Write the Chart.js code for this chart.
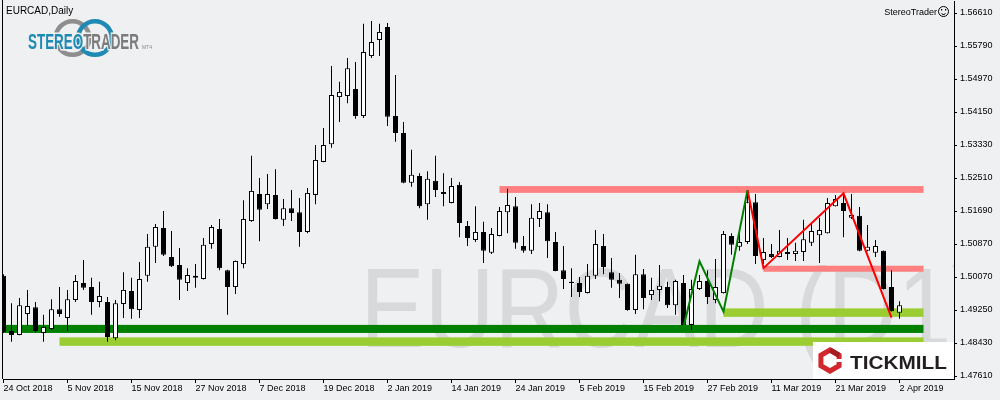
<!DOCTYPE html>
<html>
<head>
<meta charset="utf-8">
<script src="https://cdn.jsdelivr.net/npm/chart.js@4.4.1/dist/chart.umd.min.js"></script>
<style>
html, body { margin: 0; padding: 0; background: #eff0f2; }
canvas { display: block; }
</style>
</head>
<body>
<canvas id="chart" width="1000" height="400"></canvas>
<script>
// EURCAD daily candles, 24 Oct 2018 .. 2 Apr 2019 (index = trading day)
const opens = [1.5010,1.4873,1.4863,1.4915,1.4932,1.4868,1.4878,1.4927,1.4905,1.4950,
  1.4992,1.4982,1.4945,1.4945,1.4855,1.4940,1.4972,1.4925,1.5010,1.5082,
  1.5129,1.5057,1.5037,1.4992,1.5010,1.5002,1.5089,1.5126,1.5024,1.4982,
  1.5039,1.5146,1.5213,1.5188,1.5211,1.5149,1.5178,1.5168,1.5119,1.5211,
  1.5293,1.5337,1.5454,1.5457,1.5474,1.5407,1.5556,1.5596,1.5628,1.5407,
  1.5365,1.5241,1.5258,1.5188,1.5246,1.5218,1.5191,1.5236,1.5134,1.5099,
  1.5119,1.5067,1.5109,1.5168,1.5183,1.5084,1.5072,1.5151,1.5168,1.5094,
  1.5024,1.4995,1.4992,1.4967,1.5010,1.5084,1.5019,1.5000,1.4990,1.4925,
  1.5014,1.4962,1.4975,1.4982,1.4937,1.4992,1.4888,1.4977,1.4997,1.4950,
  1.4967,1.5109,1.5082,1.5094,1.5193,1.5049,1.5064,1.5057,1.5069,1.5064,
  1.5069,1.5092,1.5111,1.5116,1.5183,1.5191,1.5154,1.5159,1.5072,1.5067,
  1.5072,1.4982,1.4918];
const highs = [1.5014,1.4942,1.4955,1.4975,1.4945,1.4913,1.4952,1.4982,1.4975,1.5012,
  1.5049,1.5005,1.4995,1.4957,1.4950,1.5019,1.5005,1.5044,1.5114,1.5139,
  1.5171,1.5121,1.5079,1.5029,1.5039,1.5104,1.5136,1.5151,1.5025,1.5048,
  1.5198,1.5308,1.5253,1.5263,1.5275,1.5201,1.5223,1.5203,1.5228,1.5335,
  1.5377,1.5531,1.5492,1.5551,1.5541,1.5636,1.5643,1.5636,1.5638,1.5509,
  1.5392,1.5323,1.5265,1.5270,1.5308,1.5265,1.5253,1.5243,1.5146,1.5183,
  1.5144,1.5129,1.5181,1.5226,1.5206,1.5109,1.5188,1.5191,1.5188,1.5119,
  1.5084,1.5029,1.5007,1.5039,1.5124,1.5114,1.5054,1.5017,1.4991,1.5062,
  1.5027,1.5005,1.5037,1.4995,1.5000,1.5012,1.5000,1.5012,1.5024,1.5052,
  1.5121,1.5116,1.5119,1.5223,1.5213,1.5104,1.5089,1.5124,1.5104,1.5092,
  1.5149,1.5141,1.5154,1.5203,1.5211,1.5216,1.5213,1.5181,1.5136,1.5099,
  1.5073,1.5024,1.4947];
const lows = [1.4868,1.4846,1.4862,1.4885,1.4870,1.4846,1.4875,1.4908,1.4873,1.4945,
  1.4975,1.4913,1.4932,1.4846,1.4850,1.4905,1.4903,1.4905,1.4995,1.5042,
  1.5059,1.5032,1.4950,1.4972,1.4980,1.5001,1.5077,1.5024,1.4913,1.4965,
  1.5029,1.5144,1.5096,1.5176,1.5150,1.5134,1.5146,1.5082,1.5116,1.5188,
  1.5292,1.5328,1.5392,1.5439,1.5400,1.5402,1.5551,1.5556,1.5382,1.5343,
  1.5240,1.5231,1.5178,1.5149,1.5206,1.5183,1.5190,1.5106,1.5084,1.5094,
  1.5042,1.5064,1.5108,1.5116,1.5077,1.5067,1.5064,1.5131,1.5054,1.5021,
  1.4977,1.4957,1.4957,1.4966,1.5002,1.5014,1.4980,1.4955,1.4923,1.4915,
  1.4927,1.4950,1.4947,1.4930,1.4913,1.4885,1.4875,1.4975,1.4940,1.4942,
  1.4966,1.5062,1.5072,1.5089,1.5039,1.5039,1.5054,1.5056,1.5049,1.5047,
  1.5047,1.5084,1.5042,1.5115,1.5182,1.5106,1.5151,1.5071,1.5071,1.5057,
  1.4976,1.4921,1.4903];
const closes = [1.4870,1.4863,1.4937,1.4935,1.4873,1.4883,1.4927,1.4915,1.4952,1.4997,
  1.4980,1.4945,1.4960,1.4858,1.4942,1.4975,1.4927,1.5002,1.5082,1.5131,
  1.5062,1.5034,1.5000,1.5012,1.5005,1.5087,1.5131,1.5029,1.4982,1.5047,
  1.5151,1.5221,1.5174,1.5213,1.5151,1.5178,1.5166,1.5119,1.5216,1.5298,
  1.5335,1.5459,1.5467,1.5526,1.5407,1.5566,1.5591,1.5616,1.5405,1.5365,
  1.5241,1.5261,1.5183,1.5251,1.5223,1.5213,1.5233,1.5141,1.5104,1.5119,
  1.5072,1.5114,1.5171,1.5186,1.5092,1.5072,1.5154,1.5171,1.5096,1.5022,
  1.5002,1.4992,1.4970,1.5010,1.5089,1.5032,1.5000,1.4990,1.4925,1.5014,
  1.4955,1.4975,1.4985,1.4937,1.4997,1.4888,1.4977,1.4997,1.4957,1.4982,
  1.5114,1.5087,1.5094,1.5193,1.5059,1.5069,1.5057,1.5072,1.5064,1.5072,
  1.5101,1.5121,1.5124,1.5191,1.5201,1.5171,1.5161,1.5072,1.5082,1.5084,
  1.4977,1.4922,1.4937];

// axis ticks
const xTickIdx = [0, 8, 16, 24, 32, 40, 48, 56, 64, 72, 80, 88, 96, 104, 112];
const xTickLabels = ['24 Oct 2018', '5 Nov 2018', '15 Nov 2018', '27 Nov 2018', '7 Dec 2018',
  '19 Dec 2018', '2 Jan 2019', '14 Jan 2019', '24 Jan 2019', '5 Feb 2019', '15 Feb 2019',
  '27 Feb 2019', '11 Mar 2019', '21 Mar 2019', '2 Apr 2019'];
const yTickVals = [1.4761, 1.4843, 1.4925, 1.5007, 1.5089, 1.5171, 1.5253, 1.5335, 1.5417, 1.5499, 1.5581, 1.5663];
const yTickLabels = ['1.47610', '1.48430', '1.49250', '1.50070', '1.50870', '1.51690',
  '1.52510', '1.53330', '1.54150', '1.54970', '1.55790', '1.56610'];

// support / resistance zones (from index, to index, upper price, lower price)
const zoneStart = [-2, 7, 90, 62, 95];
const zoneEnd = [115, 115, 115, 115, 115];
const zoneTop = [1.4888, 1.4857, 1.4929, 1.5233, 1.5035];
const zoneBottom = [1.4868, 1.4836, 1.4908, 1.5216, 1.5020];
const zoneColors = ['#008000', '#9acd32', '#9acd32', '#ff8080', '#ff8080'];

// zigzag swings
const greenIdx = [85, 87, 90, 93];
const greenPrice = [1.4883, 1.5046, 1.4921, 1.5223];
const redIdx = [93, 95, 105, 111];
const redPrice = [1.5223, 1.5029, 1.5215, 1.4906];

const BG = '#eff0f2';

const bodies = opens.map((o, i) => ({ x: i, y: [o, closes[i]] }));
const wicks = highs.map((h, i) => ({ x: i, y: [lows[i], h] }));
const greenLine = greenIdx.map((x, i) => ({ x: x, y: greenPrice[i] }));
const redLine = redIdx.map((x, i) => ({ x: x, y: redPrice[i] }));

const decor = {
  id: 'decor',
  beforeDraw(chart) {
    const ctx = chart.ctx;
    ctx.save();
    ctx.fillStyle = BG;
    ctx.fillRect(0, 0, chart.width, chart.height);
    ctx.restore();
  },
  beforeDatasetsDraw(chart) {
    const ctx = chart.ctx;
    const a = chart.chartArea;
    const xs = chart.scales.x, ys = chart.scales.y;
    ctx.save();
    ctx.beginPath();
    ctx.rect(a.left, a.top, a.right - a.left, a.bottom - a.top);
    ctx.clip();

    // watermark
    ctx.save();
    ctx.font = '113px "Liberation Sans", Arial, sans-serif';
    ctx.textBaseline = 'alphabetic';
    const m = ctx.measureText('EURCAD (D1');
    const visW = m.actualBoundingBoxRight + m.actualBoundingBoxLeft;
    const s = 579 / visW;
    ctx.translate(368 + m.actualBoundingBoxLeft * s, 347);
    ctx.scale(s, 1);
    ctx.fillStyle = '#d8d9db';
    ctx.fillText('EURCAD (D1)', 0, 0);
    ctx.restore();

    // zones
    zoneStart.forEach((st, i) => {
      const x1 = xs.getPixelForValue(st);
      const x2 = xs.getPixelForValue(zoneEnd[i]);
      const y1 = ys.getPixelForValue(zoneTop[i]);
      const y2 = ys.getPixelForValue(zoneBottom[i]);
      ctx.fillStyle = zoneColors[i];
      ctx.fillRect(x1, y1, x2 - x1, y2 - y1);
    });
    ctx.restore();
  },
  afterDraw(chart) {
    const ctx = chart.ctx;
    const a = chart.chartArea;
    ctx.save();

    // left frame line
    ctx.strokeStyle = '#000';
    ctx.lineWidth = 1;
    ctx.beginPath();
    ctx.moveTo(a.left - 0.5, 0);
    ctx.lineTo(a.left - 0.5, a.bottom);
    ctx.stroke();

    // title
    ctx.fillStyle = '#000';
    ctx.font = '10px "Liberation Sans", Arial, sans-serif';
    ctx.textBaseline = 'alphabetic';
    ctx.textAlign = 'left';
    ctx.fillText('EURCAD,Daily', 6, 14);

    // StereoTrader label + smiley, top right
    ctx.font = '9px "Liberation Sans", Arial, sans-serif';
    ctx.textAlign = 'right';
    ctx.fillText('StereoTrader', a.right - 17, 15);
    ctx.beginPath();
    ctx.arc(a.right - 10.5, 11.5, 5, 0, Math.PI * 2);
    ctx.stroke();
    ctx.fillRect(a.right - 13, 9, 1.2, 1.5);
    ctx.fillRect(a.right - 9, 9, 1.2, 1.5);
    ctx.beginPath();
    ctx.arc(a.right - 10.5, 12, 2.5, 0.2 * Math.PI, 0.8 * Math.PI);
    ctx.stroke();

    // StereoTrader logo
    ctx.lineWidth = 4.5;
    ctx.strokeStyle = '#8e8e8e';
    ctx.beginPath();
    ctx.arc(72.5, 38, 16.8, 0, Math.PI * 2);
    ctx.stroke();
    ctx.strokeStyle = '#1f8ab3';
    ctx.beginPath();
    ctx.arc(95, 38, 16.8, 0, Math.PI * 2);
    ctx.stroke();
    ctx.font = 'bold 22px "Liberation Sans Narrow", "Liberation Sans", Arial, sans-serif';
    ctx.textAlign = 'left';
    const full = ctx.measureText('STEREOTRADER').width;
    const sx = 111 / full;
    const wStereo = ctx.measureText('STEREO').width * sx;
    ctx.save();
    ctx.translate(28, 49);
    ctx.scale(sx, 1);
    ctx.lineWidth = 3;
    ctx.strokeStyle = BG;
    ctx.strokeText('STEREOTRADER', 0, 0);
    ctx.fillStyle = '#1f8ab3';
    ctx.fillText('STEREO', 0, 0);
    ctx.fillStyle = '#7b7b7b';
    ctx.fillText('TRADER', wStereo / sx, 0);
    ctx.restore();
    ctx.font = '5px "Liberation Sans", Arial, sans-serif';
    ctx.fillStyle = '#8c8c8c';
    ctx.fillText('MT4', 142, 48.5);

    // Tickmill badge
    ctx.fillStyle = '#ffffff';
    ctx.fillRect(813, 342, a.right - 813, a.bottom - 342);
    const cx = 830, cy = 360.5, r = 10.5;
    ctx.lineWidth = 5;
    ctx.strokeStyle = '#d3272e';
    ctx.beginPath();
    for (let k = 0; k <= 6; k++) {
      const ang = -Math.PI / 2 + k * Math.PI / 3;
      const px = cx + r * Math.cos(ang), py = cy + r * Math.sin(ang);
      if (k === 0) ctx.moveTo(px, py); else ctx.lineTo(px, py);
    }
    ctx.closePath();
    ctx.stroke();
    ctx.strokeStyle = '#a31d23';
    ctx.beginPath();
    ctx.moveTo(cx, cy - r);
    ctx.lineTo(cx + r * Math.cos(-Math.PI / 6), cy + r * Math.sin(-Math.PI / 6));
    ctx.stroke();
    ctx.fillStyle = '#ffffff';
    ctx.fillRect(cx + 4, cy - 1.5, 10, 3);
    ctx.font = 'bold 18px "Liberation Sans", Arial, sans-serif';
    ctx.fillStyle = '#231f20';
    const tw = ctx.measureText('TICKMILL').width;
    ctx.save();
    ctx.translate(850, 368.5);
    ctx.scale(97 / tw, 1);
    ctx.fillText('TICKMILL', 0, 0);
    ctx.restore();

    ctx.restore();
  }
};

new Chart(document.getElementById('chart'), {
  type: 'bar',
  data: {
    datasets: [
      {
        type: 'line',
        data: greenLine,
        borderColor: '#008000',
        borderWidth: 2,
        pointRadius: 0,
        tension: 0,
        order: 0
      },
      {
        type: 'line',
        data: redLine,
        borderColor: '#ff0000',
        borderWidth: 2,
        pointRadius: 0,
        tension: 0,
        order: 0
      },
      {
        data: bodies,
        grouped: false,
        categoryPercentage: 0.625,
        barPercentage: 1,
        minBarLength: 1,
        borderWidth: 1,
        borderSkipped: false,
        inflateAmount: 0,
        borderColor: '#000000',
        backgroundColor: c => (c.raw && c.raw.y[1] >= c.raw.y[0]) ? '#ffffff' : '#000000',
        order: 1
      },
      {
        data: wicks,
        grouped: false,
        maxBarThickness: 1,
        borderWidth: 0,
        inflateAmount: 0,
        backgroundColor: '#000000',
        order: 2
      }
    ]
  },
  options: {
    responsive: false,
    animation: false,
    devicePixelRatio: 1,
    layout: { padding: { left: 3, top: 1, right: 0, bottom: 0 } },
    plugins: { legend: { display: false }, tooltip: { enabled: false } },
    scales: {
      x: {
        type: 'linear',
        offset: false,
        min: -0.0625,
        max: 118.8125,
        afterBuildTicks: s => { s.ticks = xTickIdx.map(v => ({ value: v })); },
        afterFit: s => { s.height = 21; s.paddingLeft = 0; s.paddingRight = 0; },
        grid: { offset: false, drawOnChartArea: false, drawTicks: true, tickLength: 4, color: '#000' },
        border: { display: true, color: '#000' },
        ticks: {
          autoSkip: false,
          maxRotation: 0,
          minRotation: 0,
          align: 'start',
          padding: 0,
          color: '#000',
          font: { family: '"Liberation Sans", Arial, sans-serif', size: 9 },
          callback: (v, i) => xTickLabels[i]
        }
      },
      y: {
        type: 'linear',
        position: 'right',
        min: 1.475355,
        max: 1.569282,
        afterBuildTicks: s => { s.ticks = yTickVals.map(v => ({ value: v })); },
        afterFit: s => { s.width = 46; s.paddingTop = 0; s.paddingBottom = 0; },
        grid: { drawOnChartArea: false, drawTicks: true, tickLength: 3, color: '#000' },
        border: { display: true, color: '#000' },
        ticks: {
          padding: 3,
          color: '#000',
          font: { family: '"Liberation Sans", Arial, sans-serif', size: 9 },
          callback: (v, i) => yTickLabels[i]
        }
      }
    }
  },
  plugins: [decor]
});
</script>
</body>
</html>
